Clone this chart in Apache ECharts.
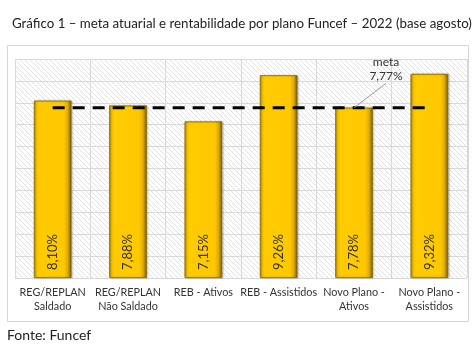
<!DOCTYPE html>
<html>
<head>
<meta charset="utf-8">
<script src="https://cdn.jsdelivr.net/npm/echarts@6/dist/echarts.min.js"></script>
<style>
html,body{margin:0;padding:0;background:#fff;}
#c{width:474px;height:355px;}
</style>
</head>
<body>
<div id="c"></div>
<script>
var titleText = 'Gráfico 1 – meta atuarial e rentabilidade por plano Funcef – 2022 (base agosto)';
var sourceText = 'Fonte: Funcef';
var categories = ['REG/REPLAN\nSaldado', 'REG/REPLAN\nNão Saldado', 'REB - Ativos', 'REB - Assistidos', 'Novo Plano -\nAtivos', 'Novo Plano -\nAssistidos'];
var rentabilidade = [8.10, 7.88, 7.15, 9.26, 7.78, 9.32];
var meta = [7.77, 7.77, 7.77, 7.77, 7.77, 7.77];
var metaLabelIndex = 4;

function fmt(v){ return v.toFixed(2).replace('.', ',') + '%'; }

var pc = document.createElement('canvas');
pc.width = 5; pc.height = 5;
var pctx = pc.getContext('2d');
pctx.fillStyle = '#ffffff';
pctx.fillRect(0,0,5,5);
pctx.strokeStyle = '#e2e2e2';
pctx.lineWidth = 1;
pctx.beginPath();
pctx.moveTo(-1,-1); pctx.lineTo(6,6);
pctx.moveTo(-1,4); pctx.lineTo(1,6);
pctx.moveTo(4,-1); pctx.lineTo(6,1);
pctx.stroke();

var chart = echarts.init(document.getElementById('c'), null, {renderer:'canvas'});
var font = 'Lato, "Open Sans", sans-serif';

var metaData = meta.map(function(v, i){
  if (i === metaLabelIndex) {
    return {
      value: v,
      symbol: 'circle',
      symbolSize: 1,
      itemStyle: { color: 'rgba(0,0,0,0)' },
      label: {
        show: true,
        position: 'top',
        formatter: 'meta\n' + fmt(v),
        fontFamily: font,
        fontSize: 12,
        lineHeight: 14,
        color: '#333',
        align: 'center'
      },
      labelLine: { show: true, lineStyle: { color: '#999', width: 1 } }
    };
  }
  return { value: v, symbol: 'none' };
});

chart.setOption({
  animation: false,
  title: {
    text: titleText,
    left: 7, top: 12,
    textStyle: { fontFamily: font, fontSize: 13.3, fontWeight: 'normal', color: '#222' }
  },
  graphic: [
    { type: 'rect', shape: { x: 7.5, y: 45.5, width: 461, height: 276 }, style: { fill: 'none', stroke: '#d6d6d6', lineWidth: 1 }, z: -10 },
    { type: 'text', left: 7, top: 328, style: { text: sourceText, fontFamily: font, fontSize: 14, fill: '#222' } }
  ],
  grid: {
    left: 15, right: 7, top: 59, bottom: 77,
    show: true,
    backgroundColor: { image: pc, repeat: 'repeat' },
    borderWidth: 0
  },
  xAxis: {
    type: 'category',
    data: categories,
    axisLine: { show: false },
    axisTick: { show: false },
    splitLine: { show: true, lineStyle: { color: '#d9d9d9', width: 1 } },
    axisLabel: { fontFamily: font, fontSize: 10.8, lineHeight: 14, color: '#333', margin: 8, interval: 0 }
  },
  yAxis: {
    type: 'value',
    min: 0, max: 10, interval: 1,
    axisLabel: { show: false },
    axisLine: { show: false },
    axisTick: { show: false },
    splitLine: { show: true, lineStyle: { color: '#d9d9d9', width: 1 } }
  },
  series: [
    {
      type: 'bar',
      data: rentabilidade,
      barWidth: '50%',
      itemStyle: {
        color: {
          type: 'linear', x: 0, y: 0, x2: 1, y2: 0,
          colorStops: [
            { offset: 0, color: '#B38C00' },
            { offset: 0.07, color: '#F5C000' },
            { offset: 0.15, color: '#FFCC00' },
            { offset: 0.8, color: '#FFC800' },
            { offset: 0.9, color: '#E0AC00' },
            { offset: 1, color: '#6E5400' }
          ]
        },
        borderColor: '#8a6c00',
        borderWidth: 0.8,
        shadowColor: 'rgba(0,0,0,0.25)',
        shadowBlur: 2,
        shadowOffsetX: 1
      },
      label: {
        show: true,
        position: 'insideBottom',
        rotate: 90,
        align: 'left',
        verticalAlign: 'middle',
        distance: 8,
        formatter: function(p){ return fmt(p.value); },
        fontFamily: font,
        fontSize: 13,
        color: '#333'
      },
      z: 2
    },
    {
      type: 'line',
      data: metaData,
      showSymbol: true,
      lineStyle: { color: '#000', width: 3, type: [12, 8] },
      labelLayout: function(p){
        if (p.dataIndex === metaLabelIndex) { return { dx: 32, dy: -19 }; }
      },
      z: 5
    }
  ]
});
</script>
</body>
</html>
